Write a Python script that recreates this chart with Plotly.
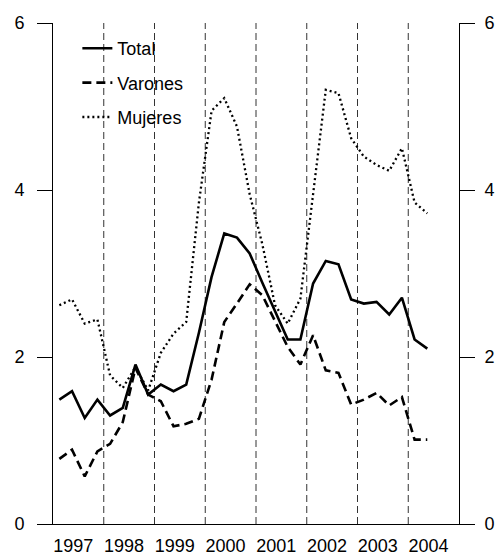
import plotly.graph_objects as go

# ---- data (quarterly, 1997-I .. 2004-II) ----
years = [1997, 1998, 1999, 2000, 2001, 2002, 2003, 2004]
periods = [f"{y}-{q}" for y in years for q in (1, 2, 3, 4)][:30]

total = [1.49, 1.59, 1.27, 1.49, 1.30, 1.39, 1.91, 1.55, 1.67, 1.59,
         1.67, 2.29, 2.96, 3.48, 3.43, 3.24, 2.89, 2.54, 2.21, 2.21,
         2.88, 3.15, 3.11, 2.69, 2.64, 2.66, 2.51, 2.71, 2.21, 2.10]
varones = [0.78, 0.89, 0.57, 0.87, 0.96, 1.22, 1.87, 1.55, 1.47, 1.17,
           1.20, 1.26, 1.73, 2.42, 2.64, 2.87, 2.74, 2.42, 2.12, 1.91,
           2.26, 1.84, 1.81, 1.43, 1.49, 1.57, 1.42, 1.52, 1.01, 1.01]
mujeres = [2.62, 2.69, 2.40, 2.45, 1.78, 1.63, 1.88, 1.60, 2.05, 2.28,
           2.42, 3.85, 4.95, 5.10, 4.76, 3.95, 3.35, 2.62, 2.40, 2.70,
           3.95, 5.20, 5.16, 4.62, 4.40, 4.30, 4.23, 4.50, 3.85, 3.72]

y_ticks = [0, 2, 4, 6]
year_lines = [1998, 1999, 2000, 2001, 2002, 2003, 2004]


def to_x(p):
    y, q = p.split("-")
    return int(y) + (int(q) - 0.5) / 4.0


x = [to_x(p) for p in periods]

FONT = "Liberation Sans, Arial, sans-serif"
FS = 18

fig = go.Figure()
fig.add_trace(go.Scatter(x=x, y=total, name="Total", mode="lines",
                         legendgroup="a",
                         line=dict(color="black", width=2.6)))
fig.add_trace(go.Scatter(x=x, y=varones, name="Varones", mode="lines",
                         legendgroup="b",
                         line=dict(color="black", width=2.6, dash="9px,5px")))
fig.add_trace(go.Scatter(x=x, y=mujeres, name="Mujeres", mode="lines",
                         legendgroup="c",
                         line=dict(color="black", width=2.3, dash="2px,3px")))
# invisible trace to activate right axis
fig.add_trace(go.Scatter(x=x, y=total, yaxis="y2", mode="lines",
                         line=dict(color="rgba(0,0,0,0)"), showlegend=False,
                         hoverinfo="skip"))

shapes = []
for yr in year_lines:
    shapes.append(dict(type="line", xref="x", yref="y", x0=yr, x1=yr,
                       y0=0, y1=6, layer="below",
                       line=dict(color="#333", width=1, dash="7px,4px")))

fig.update_layout(
    width=498, height=556,
    margin=dict(l=53, r=39, t=23, b=32, autoexpand=False),
    paper_bgcolor="white", plot_bgcolor="white",
    font=dict(family=FONT, size=FS, color="black"),
    shapes=shapes,
    showlegend=True,
    legend=dict(x=0.06, y=0.986, xanchor="left", yanchor="top",
                bgcolor="rgba(0,0,0,0)", tracegroupgap=8,
                font=dict(family=FONT, size=FS, color="black"),
                itemwidth=30),
    xaxis=dict(range=[1997, 2005], showgrid=False, zeroline=False,
               automargin=False,
               tickmode="array",
               tickvals=[yy + 0.4 for yy in years],
               ticktext=[str(yy) for yy in years],
               ticks="", showline=True, linecolor="black", linewidth=1,
               tickfont=dict(family=FONT, size=FS), ticklabelstandoff=5),
    yaxis=dict(range=[0, 6], showgrid=False, zeroline=False,
               automargin=False,
               tickmode="array", tickvals=y_ticks,
               ticks="outside", ticklen=15, tickcolor="black",
               showline=True, linecolor="black", linewidth=1,
               tickfont=dict(family=FONT, size=FS), ticklabelstandoff=9),
    yaxis2=dict(range=[0, 6], overlaying="y", side="right",
                showgrid=False, zeroline=False, automargin=False,
                tickmode="array", tickvals=y_ticks,
                ticks="outside", ticklen=15, tickcolor="black",
                showline=True, linecolor="black", linewidth=1,
                tickfont=dict(family=FONT, size=FS), ticklabelstandoff=6),
)

fig.write_html("out.html")
